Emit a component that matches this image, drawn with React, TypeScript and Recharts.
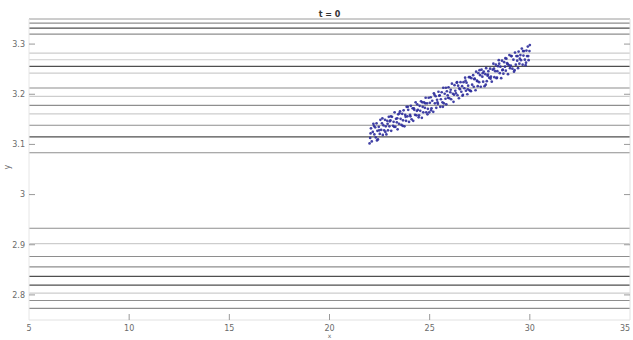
import React from 'react';
import { ScatterChart, Scatter, XAxis, YAxis, ReferenceLine, Label } from 'recharts';

// axis ticks
const X_TICKS = [5, 10, 15, 20, 25, 30, 35];
const X_INNER_TICKS = [10, 15, 20, 25, 30];
const Y_TICKS = [2.8, 2.9, 3, 3.1, 3.2, 3.3];

// horizontal level lines, grouped by how dark they are drawn
const DARK_LINES = [3.3318, 3.2555, 3.1151, 2.8368, 2.8195];
const MID_LINES = [3.3417, 3.3199, 3.2125, 3.1779, 3.1382, 3.0833, 2.9328, 2.8765, 2.8559, 2.789, 2.7732];
const LIGHT_LINES = [3.2821, 3.2688, 3.2423, 3.1958, 3.1608, 2.9024, 2.8036];

// particle cloud at t = 0 (x, y)
const CLOUD: [number, number][] = [
  [22.0, 3.102], [22.03, 3.113], [22.07, 3.132], [22.11, 3.106], [22.16, 3.125], [22.19, 3.141], [22.24, 3.12],
  [22.28, 3.134], [22.31, 3.114], [22.35, 3.142], [22.39, 3.127], [22.42, 3.11], [22.46, 3.135], [22.51, 3.121],
  [22.54, 3.149], [22.58, 3.129], [22.62, 3.142], [22.66, 3.119], [22.69, 3.138], [22.73, 3.128], [22.77, 3.149],
  [22.81, 3.136], [22.84, 3.12], [22.88, 3.147], [22.92, 3.128], [22.96, 3.155], [22.99, 3.136], [22.05, 3.122],
  [22.22, 3.137], [22.37, 3.108], [22.48, 3.128], [22.64, 3.152], [22.79, 3.125], [22.9, 3.141],
  [23.04, 3.148], [23.08, 3.127], [23.12, 3.155], [23.17, 3.137], [23.2, 3.145], [23.25, 3.164], [23.29, 3.135],
  [23.32, 3.151], [23.36, 3.144], [23.4, 3.13], [23.43, 3.16], [23.47, 3.141], [23.52, 3.166], [23.55, 3.151],
  [23.59, 3.139], [23.63, 3.161], [23.67, 3.148], [23.7, 3.168], [23.74, 3.136], [23.78, 3.159], [23.82, 3.147],
  [23.85, 3.175], [23.89, 3.156], [23.93, 3.169], [23.97, 3.145], [23.01, 3.146], [23.06, 3.156], [23.23, 3.135],
  [23.38, 3.152], [23.49, 3.162], [23.65, 3.137], [23.8, 3.155], [23.91, 3.175],
  [24.02, 3.159], [24.06, 3.177], [24.1, 3.15], [24.15, 3.172], [24.18, 3.147], [24.23, 3.169], [24.27, 3.159],
  [24.3, 3.184], [24.34, 3.158], [24.38, 3.18], [24.41, 3.169], [24.45, 3.154], [24.5, 3.177], [24.53, 3.167],
  [24.57, 3.186], [24.61, 3.153], [24.65, 3.175], [24.68, 3.164], [24.72, 3.184], [24.76, 3.173], [24.8, 3.193],
  [24.83, 3.164], [24.87, 3.182], [24.91, 3.171], [24.95, 3.193], [24.98, 3.164], [24.04, 3.156], [24.21, 3.172],
  [24.36, 3.167], [24.47, 3.158], [24.63, 3.184], [24.78, 3.182], [24.89, 3.16],
  [25.05, 3.194], [25.09, 3.172], [25.13, 3.187], [25.18, 3.165], [25.21, 3.202], [25.26, 3.182], [25.3, 3.196],
  [25.33, 3.173], [25.37, 3.189], [25.41, 3.181], [25.44, 3.205], [25.48, 3.197], [25.53, 3.175], [25.56, 3.19],
  [25.6, 3.204], [25.64, 3.184], [25.68, 3.213], [25.71, 3.182], [25.75, 3.201], [25.79, 3.191], [25.83, 3.18],
  [25.86, 3.206], [25.9, 3.198], [25.94, 3.214], [25.98, 3.192], [25.01, 3.183], [25.07, 3.168], [25.24, 3.199],
  [25.39, 3.184], [25.5, 3.198], [25.66, 3.175], [25.81, 3.213], [25.92, 3.193],
  [26.03, 3.204], [26.07, 3.19], [26.11, 3.221], [26.16, 3.201], [26.19, 3.185], [26.24, 3.218], [26.28, 3.207],
  [26.31, 3.202], [26.35, 3.223], [26.39, 3.198], [26.42, 3.217], [26.46, 3.192], [26.51, 3.21], [26.54, 3.224],
  [26.58, 3.205], [26.62, 3.216], [26.66, 3.199], [26.69, 3.224], [26.73, 3.212], [26.77, 3.233], [26.81, 3.207],
  [26.84, 3.223], [26.88, 3.2], [26.92, 3.217], [26.96, 3.234], [26.99, 3.208], [26.05, 3.209], [26.22, 3.199],
  [26.37, 3.224], [26.48, 3.212], [26.64, 3.197], [26.79, 3.227], [26.9, 3.21],
  [27.04, 3.207], [27.08, 3.232], [27.12, 3.219], [27.17, 3.238], [27.2, 3.215], [27.25, 3.231], [27.29, 3.208],
  [27.32, 3.245], [27.36, 3.227], [27.4, 3.216], [27.43, 3.242], [27.47, 3.224], [27.52, 3.238], [27.55, 3.215],
  [27.59, 3.249], [27.63, 3.235], [27.67, 3.225], [27.7, 3.245], [27.74, 3.216], [27.78, 3.24], [27.82, 3.252],
  [27.85, 3.226], [27.89, 3.237], [27.93, 3.246], [27.97, 3.233], [27.01, 3.234], [27.06, 3.206], [27.23, 3.23],
  [27.38, 3.226], [27.49, 3.248], [27.65, 3.242], [27.8, 3.219], [27.91, 3.239],
  [28.02, 3.251], [28.06, 3.235], [28.1, 3.225], [28.15, 3.249], [28.18, 3.261], [28.23, 3.234], [28.27, 3.246],
  [28.3, 3.259], [28.34, 3.232], [28.38, 3.246], [28.41, 3.256], [28.45, 3.268], [28.5, 3.242], [28.53, 3.255],
  [28.57, 3.232], [28.61, 3.267], [28.65, 3.249], [28.68, 3.241], [28.72, 3.264], [28.76, 3.255], [28.8, 3.247],
  [28.83, 3.271], [28.87, 3.262], [28.91, 3.24], [28.95, 3.258], [28.98, 3.278], [28.04, 3.231], [28.21, 3.251],
  [28.36, 3.233], [28.47, 3.261], [28.63, 3.248], [28.78, 3.272], [28.89, 3.26],
  [29.05, 3.257], [29.09, 3.276], [29.13, 3.251], [29.18, 3.269], [29.21, 3.245], [29.26, 3.283], [29.3, 3.259],
  [29.33, 3.276], [29.37, 3.267], [29.41, 3.252], [29.44, 3.285], [29.48, 3.261], [29.53, 3.278], [29.56, 3.268],
  [29.6, 3.291], [29.64, 3.259], [29.68, 3.277], [29.71, 3.286], [29.75, 3.269], [29.79, 3.258], [29.83, 3.287],
  [29.86, 3.276], [29.9, 3.295], [29.94, 3.268], [29.98, 3.286], [29.01, 3.252], [29.07, 3.276], [29.24, 3.248],
  [29.39, 3.276], [29.5, 3.271], [29.66, 3.286], [29.81, 3.263], [29.92, 3.276], [30.0, 3.298],
];

const cloudData = CLOUD.map(([x, y]) => ({ x, y }));

const FONT = 'DejaVu Sans, Arial, sans-serif';
const TICK_COLOR = '#9a9a9a';
const LABEL_COLOR = '#6a6a6a';

const LeftTick = (props: any) => {
  const { x, y, payload } = props;
  return (
    <g>
      <line x1={x + 4} x2={x + 10} y1={y} y2={y} stroke={TICK_COLOR} />
      <text x={x} y={y} dy="0.35em" textAnchor="end" fontSize={8} fill={LABEL_COLOR} fontFamily={FONT}>
        {payload.value}
      </text>
    </g>
  );
};

const BottomTick = (props: any) => {
  const { x, y, payload } = props;
  const inner = payload.value > 5 && payload.value < 35;
  return (
    <g>
      {inner && <line x1={x} x2={x} y1={y - 5} y2={y - 11} stroke={TICK_COLOR} />}
      <text x={x} y={y} dy="0.71em" textAnchor="middle" fontSize={8} fill={LABEL_COLOR} fontFamily={FONT}>
        {payload.value}
      </text>
    </g>
  );
};

const TopTick = (props: any) => {
  const { x, y } = props;
  return <line x1={x} x2={x} y1={y} y2={y + 6} stroke={TICK_COLOR} />;
};

const RightTick = (props: any) => {
  const { x, y } = props;
  return <line x1={x} x2={x - 6} y1={y} y2={y} stroke={TICK_COLOR} />;
};

const Dot = (props: any) => <circle cx={props.cx} cy={props.cy} r={1.35} fill="#2d2d9c" fillOpacity={0.9} />;

export default function App() {
  return (
    <div style={{ position: 'absolute', left: 0, top: 0, width: 633, height: 340, background: '#fff' }}>
      <ScatterChart width={633} height={340} margin={{ top: 0, right: 0, bottom: 0, left: 0 }}>
        <XAxis
          dataKey="x"
          type="number"
          domain={[5, 35]}
          ticks={X_TICKS}
          allowDataOverflow
          height={20}
          tickSize={0}
          tickMargin={5}
          tick={<BottomTick />}
          stroke="#e2e2e2"
        >
          <Label value="x" position="bottom" offset={-6} fontSize={6} fill={LABEL_COLOR} fontFamily={FONT} />
        </XAxis>
        <XAxis
          xAxisId="top"
          orientation="top"
          type="number"
          domain={[5, 35]}
          ticks={X_INNER_TICKS}
          allowDataOverflow
          height={19}
          tickSize={0}
          tickMargin={0}
          tick={<TopTick />}
          stroke="#9a9a9a"
        />
        <YAxis
          dataKey="y"
          type="number"
          domain={[2.75, 3.35]}
          ticks={Y_TICKS}
          allowDataOverflow
          width={29}
          tickSize={0}
          tickMargin={4}
          tick={<LeftTick />}
          stroke="#e6e6e6"
        >
          <Label value="y" position="insideLeft" angle={-90} offset={7} fontSize={8} fill={LABEL_COLOR} fontFamily={FONT} />
        </YAxis>
        <YAxis
          yAxisId="right"
          orientation="right"
          type="number"
          domain={[2.75, 3.35]}
          ticks={Y_TICKS}
          allowDataOverflow
          width={3}
          tickSize={0}
          tickMargin={0}
          tick={<RightTick />}
          stroke="#e2e2e2"
        />
        {LIGHT_LINES.map((v) => (
          <ReferenceLine key={`l${v}`} y={v} stroke="#cdcdcd" strokeWidth={1.2} />
        ))}
        {MID_LINES.map((v) => (
          <ReferenceLine key={`m${v}`} y={v} stroke="#8e8e8e" strokeWidth={1.1} />
        ))}
        {DARK_LINES.map((v) => (
          <ReferenceLine key={`d${v}`} y={v} stroke="#4f4f4f" strokeWidth={1.3} />
        ))}
        <Scatter data={cloudData} shape={Dot} isAnimationActive={false} />
      </ScatterChart>
      <div
        style={{
          position: 'absolute',
          left: 0,
          width: 659,
          top: 9,
          textAlign: 'center',
          fontFamily: FONT,
          fontSize: 8,
          fontWeight: 'bold',
          color: '#333',
          lineHeight: '12px',
        }}
      >
        t = 0
      </div>
    </div>
  );
}
